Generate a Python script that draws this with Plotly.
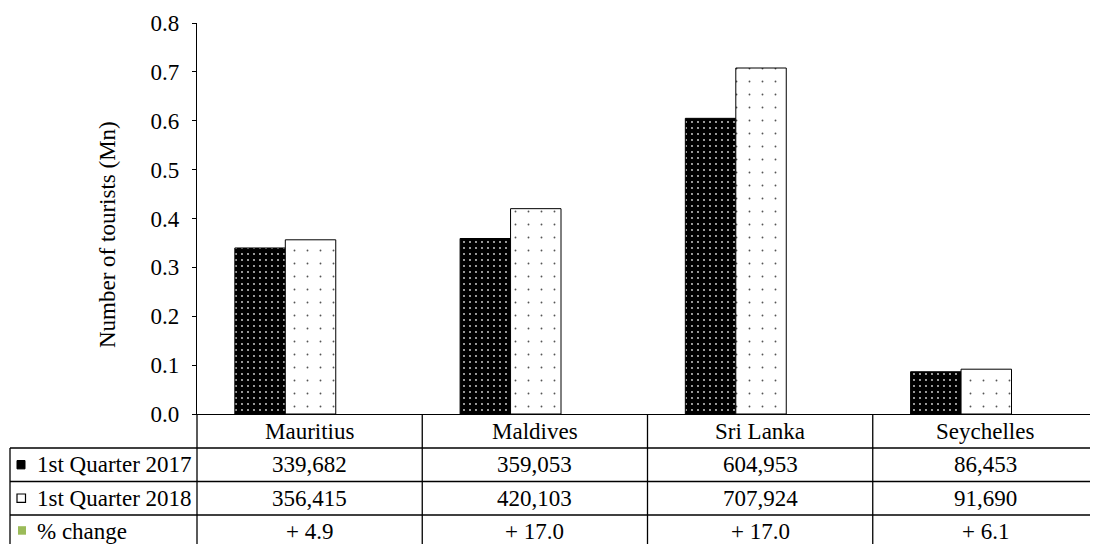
import plotly.graph_objects as go

# ---------------- data ----------------
countries = ["Mauritius", "Maldives", "Sri Lanka", "Seychelles"]
q1_2017 = [339682, 359053, 604953, 86453]
q1_2018 = [356415, 420103, 707924, 91690]
pct_change = ["+ 4.9", "+ 17.0", "+ 17.0", "+ 6.1"]
row_labels = ["1st Quarter 2017", "1st Quarter 2018", "% change"]
y_tick_vals = [0.0, 0.1, 0.2, 0.3, 0.4, 0.5, 0.6, 0.7, 0.8]
y_title = "Number of tourists (Mn)"

# ---------------- geometry (window pixels) ----------------
WIN_W, WIN_H = 1098, 544
OFF = 8                     # page body margin
W, H = WIN_W - OFF, WIN_H - OFF
L, R, T, B = 197, 1098, 23, 414
PW, PH = R - L, B - T
FONT = "Liberation Serif, Times New Roman, Times, serif"
FS = 23
GREEN = "#9BBB59"


def xp(px):
    return (px - L) / PW


def yp(py):
    return (B - py) / PH


bar_w = 0.224
off_2017 = -0.332
off_2018 = off_2017 + bar_w

fig = go.Figure()
fig.add_trace(go.Bar(
    x=countries, y=[v / 1e6 for v in q1_2017], name=row_labels[0],
    width=bar_w, offset=off_2017,
    marker=dict(color="black", line=dict(color="black", width=1),
                pattern=dict(shape=".", bgcolor="black", fgcolor="#e0e0e0",
                             size=6, solidity=0.07, fillmode="replace")),
))
fig.add_trace(go.Bar(
    x=countries, y=[v / 1e6 for v in q1_2018], name=row_labels[1],
    width=bar_w, offset=off_2018,
    marker=dict(color="white", line=dict(color="black", width=1),
                pattern=dict(shape=".", bgcolor="white", fgcolor="#555555",
                             size=13, solidity=0.016, fillmode="replace")),
))

shapes = []
line = dict(color="black", width=1.3)
# horizontal table lines
for py in [448, 481.5, 515]:
    shapes.append(dict(type="line", xref="paper", yref="paper",
                       x0=xp(10), x1=xp(WIN_W + 5), y0=yp(py), y1=yp(py), line=line))
# left border of row-label column
shapes.append(dict(type="line", xref="paper", yref="paper",
                   x0=xp(10), x1=xp(10), y0=yp(448), y1=yp(WIN_H + 5), line=line))
# axis continuation through table
shapes.append(dict(type="line", xref="paper", yref="paper",
                   x0=0, x1=0, y0=0, y1=yp(WIN_H + 5), line=line))
# category dividers
for i in range(len(countries) - 1):
    shapes.append(dict(type="line", xref="x", yref="paper",
                       x0=i + 0.5, x1=i + 0.5, y0=0, y1=yp(WIN_H + 5), line=line))

row_centers = [464.7, 498.2, 531.7]
# legend keys
k = 4.2
shapes.append(dict(type="rect", xref="paper", yref="paper",
                   x0=xp(17), x1=xp(25), y0=yp(row_centers[0] - k), y1=yp(row_centers[0] + k),
                   fillcolor="black", line=dict(color="black", width=1)))
shapes.append(dict(type="rect", xref="paper", yref="paper",
                   x0=xp(17), x1=xp(25.5), y0=yp(row_centers[1] - k), y1=yp(row_centers[1] + k),
                   fillcolor="white", line=dict(color="black", width=1.2)))
shapes.append(dict(type="rect", xref="paper", yref="paper",
                   x0=xp(18), x1=xp(26), y0=yp(row_centers[2] - 5.5), y1=yp(row_centers[2] + 3),
                   fillcolor=GREEN, line=dict(width=0)))

annotations = []
font = dict(family=FONT, size=FS, color="black")
# category labels
for c in countries:
    annotations.append(dict(x=c, xref="x", y=yp(431), yref="paper", text=c,
                            showarrow=False, font=font, xanchor="center", yanchor="middle"))
# row labels
for lab, yc in zip(row_labels, row_centers):
    annotations.append(dict(x=xp(35), xref="paper", y=yp(yc), yref="paper", text=lab,
                            showarrow=False, font=font, xanchor="left", yanchor="middle"))
# table values
rows = [[f"{v:,}" for v in q1_2017], [f"{v:,}" for v in q1_2018], pct_change]
for vals, yc in zip(rows, row_centers):
    for c, v in zip(countries, vals):
        annotations.append(dict(x=c, xref="x", y=yp(yc), yref="paper", text=v,
                                showarrow=False, font=font, xanchor="center", yanchor="middle"))
# y title
annotations.append(dict(x=xp(107), xref="paper", y=yp(235), yref="paper", text=y_title,
                        textangle=-90, showarrow=False, font=font,
                        xanchor="center", yanchor="middle"))

fig.update_layout(
    width=W, height=H,
    margin=dict(l=L - OFF, r=WIN_W - R, t=T - OFF, b=WIN_H - B, pad=0),
    paper_bgcolor="white", plot_bgcolor="white",
    showlegend=False,
    font=font,
    shapes=shapes,
    annotations=annotations,
    xaxis=dict(type="category", range=[-0.5, len(countries) - 0.5],
               showticklabels=False, ticks="", showgrid=False, zeroline=False,
               showline=True, linecolor="black", linewidth=1.3),
    yaxis=dict(range=[0, 0.8], tickvals=y_tick_vals,
               ticktext=[f"{v:.1f}" for v in y_tick_vals],
               ticks="outside", ticklen=4, tickcolor="black", tickwidth=1.3,
               ticklabelstandoff=8,
               showgrid=False, zeroline=False,
               showline=True, linecolor="black", linewidth=1.3,
               tickfont=font),
)

fig.write_html("out.html")
